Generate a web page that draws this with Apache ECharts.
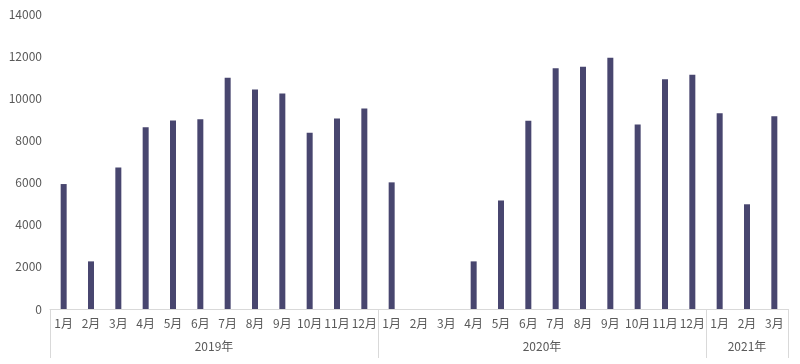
<!DOCTYPE html>
<html>
<head>
<meta charset="utf-8">
<script src="https://cdn.jsdelivr.net/npm/echarts@6/dist/echarts.min.js"></script>
<style>html,body{margin:0;padding:0;background:#fff}#c{width:800px;height:364px}</style>
</head>
<body>
<div id="c"></div>
<script>
var months = ['1月','2月','3月','4月','5月','6月','7月','8月','9月','10月','11月','12月',
              '1月','2月','3月','4月','5月','6月','7月','8月','9月','10月','11月','12月',
              '1月','2月','3月'];
var values = [5930, 2260, 6720, 8620, 8950, 9000, 10980, 10420, 10230, 8370, 9040, 9520,
              6010, 0, 0, 2260, 5150, 8930, 11420, 11500, 11920, 8760, 10900, 11120,
              9290, 4970, 9150];
var yearLabels = ['2019年', '2020年', '2021年'];
var yearSpans = [12, 12, 3];
var yTicks = [0, 2000, 4000, 6000, 8000, 10000, 12000, 14000];

var boundaries = [0];
var centers = [];
yearSpans.forEach(function (s, i) {
  var start = boundaries[boundaries.length - 1];
  centers.push(start + s / 2);
  boundaries.push(start + s);
});

var font = 'Noto Sans CJK SC';
var chart = echarts.init(document.getElementById('c'), null, {renderer: 'canvas'});
chart.setOption({
  animation: false,
  grid: {left: 50, right: 12, top: 14, bottom: 55, containLabel: false},
  xAxis: [{
    type: 'category',
    data: months,
    position: 'bottom',
    axisLine: {lineStyle: {color: '#d9d9d9', width: 1}},
    axisTick: {
      show: true,
      length: 49,
      lineStyle: {color: '#d9d9d9'},
      interval: function (idx) { return boundaries.indexOf(idx) >= 0; }
    },
    axisLabel: {color: '#595959', fontSize: 12, fontFamily: font, margin: 8, interval: 0}
  }, {
    type: 'value',
    position: 'bottom',
    offset: 23,
    min: 0,
    max: months.length,
    interval: 1.5,
    axisLine: {show: false},
    axisTick: {show: false},
    splitLine: {show: false},
    axisLabel: {
      color: '#595959', fontSize: 12, fontFamily: font, margin: 8,
      showMinLabel: true, showMaxLabel: true,
      formatter: function (v) {
        var i = centers.indexOf(v);
        return i >= 0 ? yearLabels[i] : '';
      }
    }
  }],
  yAxis: {
    type: 'value',
    min: yTicks[0],
    max: yTicks[yTicks.length - 1],
    interval: yTicks[1] - yTicks[0],
    axisLine: {show: false},
    axisTick: {show: false},
    splitLine: {show: false},
    axisLabel: {color: '#595959', fontSize: 12, fontFamily: font, margin: 8,
      formatter: function (v) { return String(v); }}
  },
  series: [{
    type: 'bar',
    xAxisIndex: 0,
    data: values,
    barWidth: 6,
    itemStyle: {color: '#48466f'}
  }]
});
</script>
</body>
</html>
